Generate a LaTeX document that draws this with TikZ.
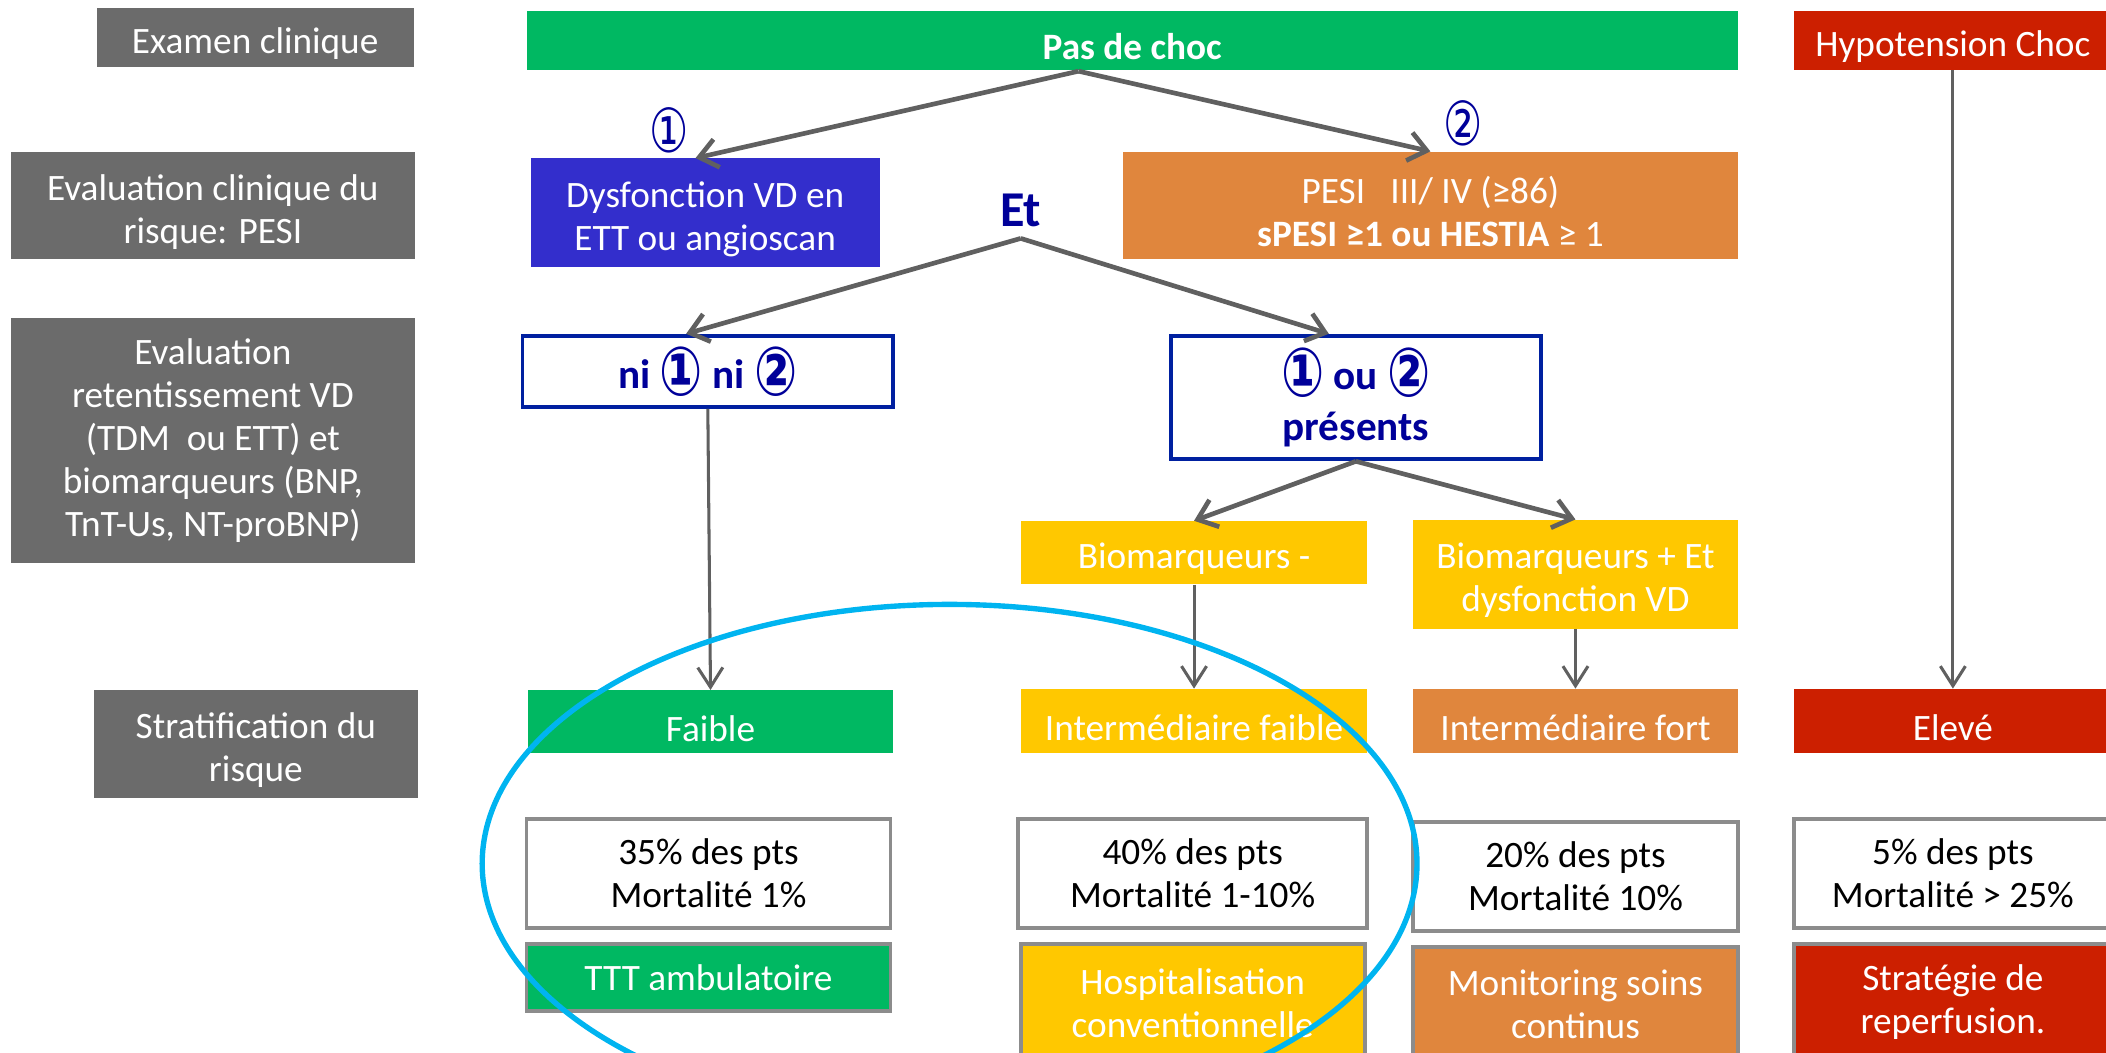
\documentclass[tikz,border=0pt]{standalone}
\usepackage{fontspec}
\usepackage{graphicx}
\setmainfont{Carlito}
\newfontfamily\numfont{DejaVu Sans}
\usetikzlibrary{arrows.meta}
\definecolor{labgris}{RGB}{107,107,107}
\definecolor{vert}{RGB}{0,184,98}
\definecolor{rouge}{RGB}{204,31,0}
\definecolor{bleu}{RGB}{51,46,204}
\definecolor{orange}{RGB}{224,134,61}
\definecolor{jaune}{RGB}{255,200,0}
\definecolor{marine}{RGB}{0,0,153}
\definecolor{fleche}{RGB}{96,96,96}
\definecolor{cyanrond}{RGB}{0,180,240}
\definecolor{bordgris}{RGB}{140,140,140}
\newcommand{\cerc}[1]{{\numfont\fontsize{34}{34}\selectfont\scalebox{0.72}[1]{#1}}}
\newcommand{\cercg}[1]{\raisebox{-4pt}{\numfont\bfseries\fontsize{38}{38}\selectfont\scalebox{0.75}[1]{#1}}}
\newcommand{\hs}{\rule{0pt}{21.5pt}}
\begin{document}
\begin{tikzpicture}[x=0.75pt,y=0.75pt,yscale=-1,xscale=1,
  txt/.style={font=\fontsize{20.8}{24}\selectfont},
  lab/.style={txt,fill=labgris,text=white,inner sep=0pt,align=center},
  boite/.style={txt,text=white,inner sep=0pt,align=center},
  cadre/.style={txt,draw=bordgris,line width=2.2pt,fill=white,inner sep=0pt,align=center},
  choix/.style={draw={rgb,255:red,0;green,32;blue,160},line width=2.2pt,fill=white,text=marine,inner sep=0pt,align=center,font=\fontsize{23}{28.5}\selectfont\bfseries},
  fl/.style={draw=fleche,line width=2.6pt,-{Straight Barb[length=10pt,width=16pt]}},
  flv/.style={draw=fleche,line width=1.7pt,-{Straight Barb[length=11pt,width=14pt]}}]
\useasboundingbox (0,0) rectangle (1568,784);
% colonne de gauche
\node (lab1) at (190,28) [lab,minimum width=177pt,minimum height=33pt] {\hs Examen clinique};
\node (lab2) at (158.5,153) [lab,minimum width=225.75pt,minimum height=60pt] {\hs Evaluation clinique du\\risque: PESI};
\node (lab3) at (158.5,328) [lab,minimum width=225.75pt,minimum height=136.5pt] {Evaluation\\retentissement VD\\(TDM \ ou ETT) et\\biomarqueurs (BNP,\\TnT-Us, NT-proBNP)};
\node (lab4) at (190.5,554) [lab,minimum width=180.75pt,minimum height=60pt] {\hs Stratification du\\risque};
% examen clinique
\node (choc0) at (843,30) [boite,fill=vert,minimum width=676.5pt,minimum height=33pt] {\hs\bfseries Pas de choc};
\node (choc1) at (1454,30) [boite,fill=rouge,minimum width=177pt,minimum height=33pt] {\hs Hypotension Choc};
\coordinate (fourche) at (803,53);
% PESI
\node (dysf) at (525,158.5) [boite,fill=bleu,minimum width=195pt,minimum height=60.75pt] {\hs Dysfonction VD en\\ETT ou angioscan};
\node (pesi) at (1065,153) [boite,fill=orange,minimum width=343.5pt,minimum height=60pt] {\hs PESI \ \ III/ IV (≥86)\\\textbf{sPESI ≥1 ou HESTIA} ≥ 1};
\node (un) at (498,97) [text=marine,inner sep=0pt] {\cerc{①}};
\node (deux) at (1089,92) [text=marine,inner sep=0pt] {\cerc{②}};
\node (et) at (760,157) [text=marine,inner sep=6pt,font=\fontsize{28}{30}\selectfont\bfseries] {Et};
% retentissement
\node (ni) at (527,276.5) [choix,minimum width=207pt,minimum height=39.75pt] {ni \cercg{①} ni \cercg{②}};
\node (ou) at (1009.5,296) [choix,minimum width=206.25pt,minimum height=69pt] {\cercg{①} ou \cercg{②}\\présents};
\node (bmin) at (889,411.5) [boite,fill=jaune,minimum width=193.5pt,minimum height=35.25pt] {\hs Biomarqueurs -};
\node (bplus) at (1173,427.5) [boite,fill=jaune,minimum width=181.5pt,minimum height=60.75pt] {\hs Biomarqueurs + Et\\dysfonction VD};
% stratification
\node (faible) at (529,537.5) [boite,fill=vert,minimum width=204pt,minimum height=35.25pt] {\hs Faible};
\node (ifaible) at (889,537) [boite,fill=jaune,minimum width=193.5pt,minimum height=36pt] {\hs Intermédiaire faible};
\node (ifort) at (1173,537) [boite,fill=orange,minimum width=181.5pt,minimum height=36pt] {\hs Intermédiaire fort};
\node (eleve) at (1454,537) [boite,fill=rouge,minimum width=177pt,minimum height=36pt] {\hs Elevé};
% mortalite
\node (w1) at (527.5,650.5) [cadre,minimum width=203.25pt,minimum height=60.75pt] {35\% des pts\\Mortalité 1\%};
\node (w2) at (888,650.5) [cadre,minimum width=195pt,minimum height=60.75pt] {40\% des pts\\Mortalité 1-10\%};
\node (w3) at (1173,652.5) [cadre,minimum width=181.5pt,minimum height=60.75pt] {20\% des pts\\Mortalité 10\%};
\node (w4) at (1454,650.5) [cadre,minimum width=177pt,minimum height=60.75pt] {5\% des pts\\Mortalité > 25\%};
% prise en charge
\node (t1) at (527.5,728) [cadre,fill=vert,text=white,minimum width=203.25pt,minimum height=37.5pt] {TTT ambulatoire};
\node (t2) at (888,747) [cadre,fill=jaune,text=white,minimum width=192pt,minimum height=66pt] {Hospitalisation\\conventionnelle};
\node (t3) at (1173,748) [cadre,fill=orange,text=white,minimum width=181.5pt,minimum height=64.5pt] {Monitoring soins\\continus};
\node (t4) at (1454,746) [cadre,fill=rouge,text=white,minimum width=177pt,minimum height=64.5pt] {Stratégie de\\reperfusion.};
% fleches
\draw [fl] (fourche) -- (dysf.100);
\draw [fl] (fourche) -- (pesi.north);
\draw [fl] (et.south) -- (ni.120);
\draw [fl] (et.south) -- (ou.113);
\draw [fl] (ou.south) -- (bmin.north);
\draw [fl] (ou.south) -- (bplus.north);
\draw [flv] (ni.south) -- (faible.north);
\draw [flv] (bmin.south) -- (ifaible.north);
\draw [flv] (bplus.south) -- (ifort.north);
\draw [flv] (choc1.south) -- (eleve.north);
% groupe entoure
\draw [cyanrond,line width=3pt] (707,643) ellipse [x radius=348,y radius=193];
\end{tikzpicture}
\end{document}
